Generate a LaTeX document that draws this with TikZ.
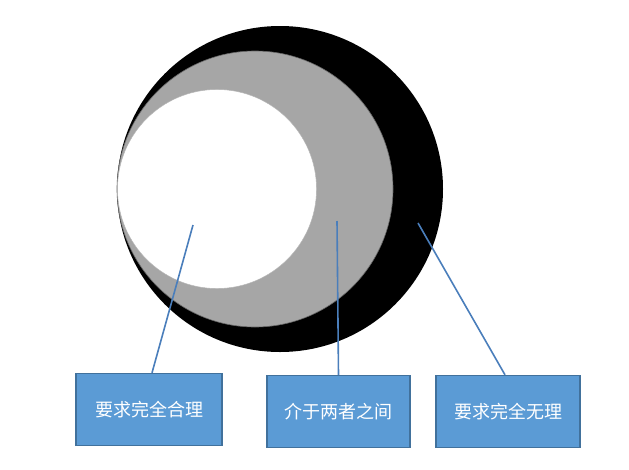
\documentclass[tikz,border=0pt]{standalone}
\usepackage{fontspec}
\newfontfamily\cjk{Noto Sans CJK SC}
\usepackage{tikz}
\usetikzlibrary{positioning,calc}

\definecolor{boxfill}{HTML}{5B9BD5}
\definecolor{boxedge}{HTML}{41719C}
\definecolor{lineblue}{HTML}{4A7EBB}
\definecolor{midgray}{HTML}{A6A6A6}

\begin{document}
\begin{tikzpicture}[x=1pt, y=-1pt,
    labelbox/.style={draw=boxedge, line width=1.3pt, fill=boxfill, text=white,
                     font=\cjk\fontsize{18}{21}\selectfont, inner sep=0pt,
                     minimum width=144pt, minimum height=72pt},
    pointer/.style={lineblue, line width=1.6pt},
  ]
  \useasboundingbox (0,0) rectangle (629,469);

  % === Nested discs ===
  \fill[black] (280,189) circle (163);
  \filldraw[fill=midgray, draw=gray!80!black, line width=0.6pt] (255,189) circle (138);
  \filldraw[fill=white, draw=gray!60, line width=0.4pt] (217,189) circle (99.5);

  % Pointer tips
  \coordinate (pw) at (193,225);
  \coordinate (pg) at (337,221);
  \coordinate (pb) at (418,223);

  % === Labels ===
  \node[labelbox, minimum width=146pt] (reasonable) at (149,409.5) {要求完全合理};
  \node[labelbox, minimum width=143pt] (between) at (338.5,411.5) {介于两者之间};
  \node[labelbox] (unreasonable) at (508,411.5) {要求完全无理};

  % Pointers
  \draw[pointer] (pw) -- ($(reasonable.north)+(3,0)$);
  \draw[pointer] (pg) -- (between.north);
  \draw[pointer] (pb) -- ($(unreasonable.north)+(-3,0)$);

\end{tikzpicture}
\end{document}
